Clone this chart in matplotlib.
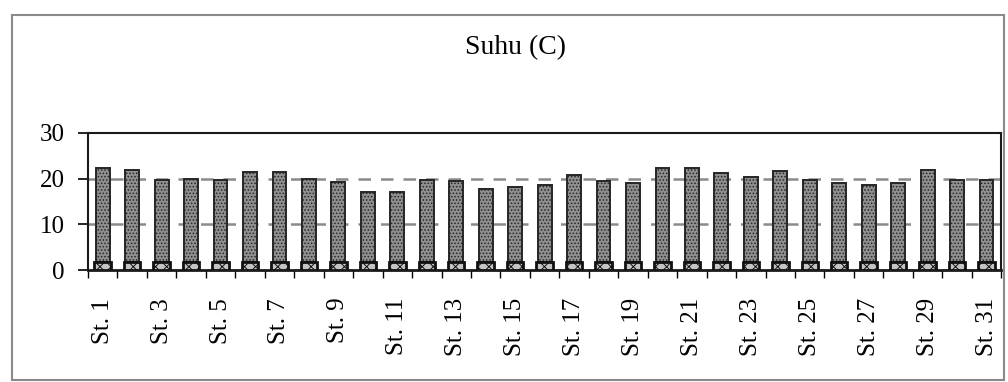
import matplotlib
matplotlib.use("Agg")
import matplotlib.pyplot as plt
from matplotlib.patches import Rectangle
import numpy as np

plt.rcParams['font.family'] = ['Liberation Serif', 'DejaVu Serif']
plt.rcParams['hatch.linewidth'] = 0.7

stations = [f"St. {i}" for i in range(1, 32)]
suhu = [22.3, 21.9, 19.7, 20.0, 19.8, 21.5, 21.5, 20.0, 19.3, 17.1,
        17.1, 19.8, 19.5, 17.7, 18.1, 18.6, 20.8, 19.5, 19.0, 22.4,
        22.4, 21.3, 20.4, 21.7, 19.7, 19.1, 18.7, 19.1, 22.0, 19.7, 19.7]
base = [1.8] * 31
title = "Suhu (C)"
yticks = [0, 10, 20, 30]

fig = plt.figure(figsize=(10.08, 3.82), dpi=100)
fig.patch.set_facecolor('white')
fig.add_artist(Rectangle((0.012, 0.005), 0.984, 0.955, transform=fig.transFigure,
                         fill=False, edgecolor='#8a8a8a', linewidth=1.5))

ax = fig.add_axes([0.0873, 0.293, 0.906, 0.359])
x = np.arange(len(stations))
top_vals = np.array(suhu) - np.array(base)

ax.bar(x, top_vals, bottom=base, width=0.47, color='#8f8f8f', edgecolor='#262626',
       linewidth=1.4, hatch='.....', zorder=3)
ax.bar(x, base, width=0.56, color='#c4c4c4', edgecolor='#111111',
       linewidth=2.0, hatch='xxx', zorder=3)

ax.set_xlim(-0.44, 30.5)
ax.set_ylim(0, 30)
ax.set_yticks(yticks)
ax.set_yticklabels([str(v) for v in yticks], fontsize=18)
ax.tick_params(axis='y', length=7, width=1.2, pad=10, direction='out')

ax.set_xticks(x[::2])
ax.set_xticklabels(stations[::2], rotation=90, fontsize=18)
ax.tick_params(axis='x', length=0, pad=20)
ax.set_xticks(np.arange(-0.5, 31, 1), minor=True)
ax.tick_params(axis='x', which='minor', length=6, width=1.0, direction='out')

for v in [10, 20]:
    ax.axhline(v, color='#8a8a8a', linestyle=(0, (5, 4)), linewidth=1.8, zorder=1)

for s in ['top', 'left', 'bottom', 'right']:
    ax.spines[s].set_color('#1a1a1a')
    ax.spines[s].set_linewidth(1.5)
ax.spines['bottom'].set_linewidth(2.0)

fig.text(0.511, 0.875, title, ha='center', va='center', fontsize=20)

fig.savefig("out.png", dpi=100, facecolor='white')
